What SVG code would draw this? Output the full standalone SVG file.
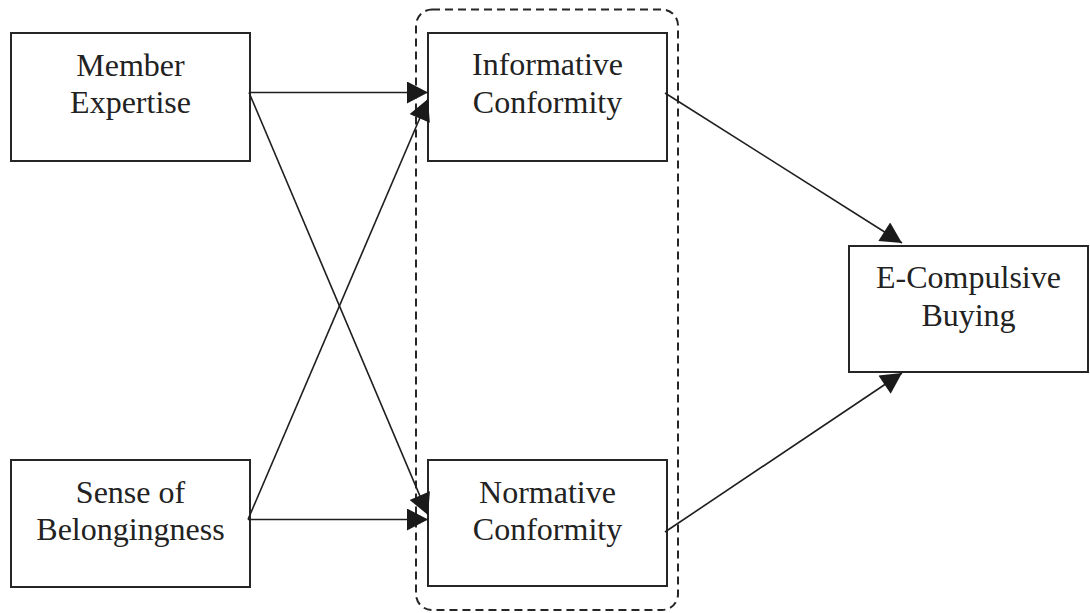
<svg xmlns="http://www.w3.org/2000/svg" width="1090" height="613" viewBox="0 0 1090 613">
  <style>
    .box { fill: #ffffff; stroke: #262626; stroke-width: 2; }
    .lbl { font-family: "Liberation Serif", "Times New Roman", serif; font-size: 32px; fill: #222222; text-anchor: middle; }
    .edge { fill: none; stroke: #1e1e1e; stroke-width: 1.6; marker-end: url(#arrow); }
    .group { fill: none; stroke: #262626; stroke-width: 2; stroke-dasharray: 8 5; }
  </style>
  <defs>
    <marker id="arrow" markerUnits="userSpaceOnUse" markerWidth="22" markerHeight="22" viewBox="0 0 21 22" refX="21" refY="11" orient="auto">
      <path d="M0,0 L21,11 L0,22 z" fill="#1a1a1a"/>
    </marker>
  </defs>
  <rect width="1090" height="613" fill="#ffffff"/>

  <rect id="mediators-group" class="group" x="416" y="9.5" width="262" height="600.5" rx="16" ry="16"/>

  <g id="member-expertise">
    <rect class="box" x="11" y="33" width="239" height="128"/>
    <text class="lbl" x="130.5" y="76">Member</text>
    <text class="lbl" x="130.5" y="113">Expertise</text>
  </g>

  <g id="sense-of-belongingness">
    <rect class="box" x="11" y="460" width="239" height="127"/>
    <text class="lbl" x="130.5" y="503">Sense of</text>
    <text class="lbl" x="130.5" y="540">Belongingness</text>
  </g>

  <g id="informative-conformity">
    <rect class="box" x="428" y="33" width="239" height="128"/>
    <text class="lbl" x="547.5" y="75">Informative</text>
    <text class="lbl" x="547.5" y="113">Conformity</text>
  </g>

  <g id="normative-conformity">
    <rect class="box" x="428" y="460" width="239" height="126"/>
    <text class="lbl" x="547.5" y="503">Normative</text>
    <text class="lbl" x="547.5" y="540">Conformity</text>
  </g>

  <g id="e-compulsive-buying">
    <rect class="box" x="849" y="246" width="239" height="126"/>
    <text class="lbl" x="968.5" y="288">E-Compulsive</text>
    <text class="lbl" x="968.5" y="326">Buying</text>
  </g>

  <g id="connectors">
    <line class="edge" x1="249" y1="92.5" x2="428" y2="92.5"/>
    <line class="edge" x1="249" y1="92.5" x2="428" y2="515"/>
    <line class="edge" x1="248" y1="519.5" x2="428" y2="519.5"/>
    <line class="edge" x1="248" y1="519.5" x2="428" y2="99"/>
    <line class="edge" x1="665" y1="93" x2="902" y2="243"/>
    <line class="edge" x1="665" y1="532" x2="902" y2="373"/>
  </g>
</svg>
